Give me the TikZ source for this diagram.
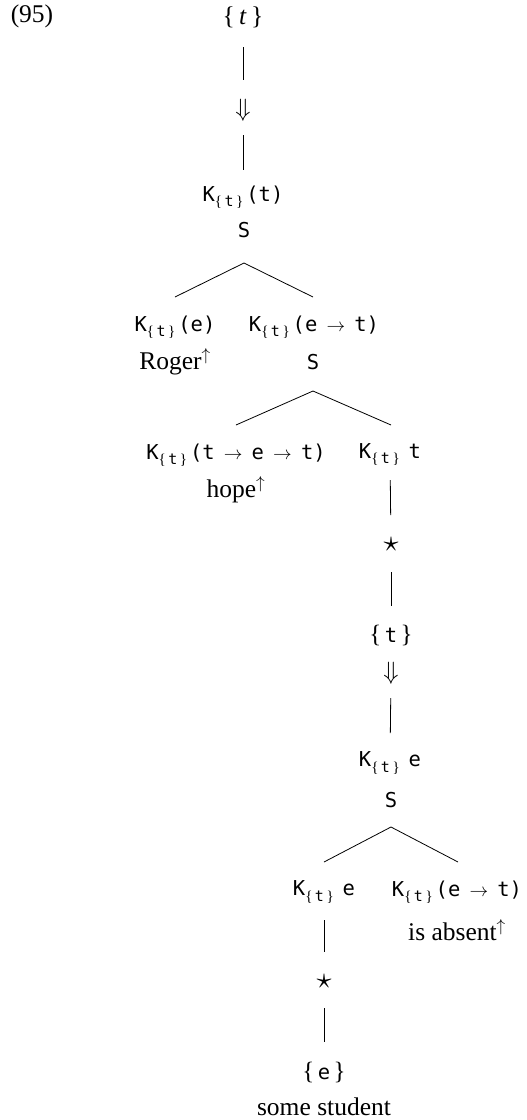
\documentclass[tikz,border=0pt]{standalone}
\usepackage{graphicx}
\usepackage{fontspec}
\setmainfont{Liberation Serif}
\newfontfamily\tyf{DejaVu Sans Mono}
\newcommand\Kt{K\raisebox{-0.45ex}{\fontsize{15}{15}\selectfont{\rmfamily\{}\,t\,{\rmfamily\}}}\hspace{3pt}}
\newcommand\Br[1]{{\fontsize{25}{25}\selectfont\rmfamily\{}\,#1\,{\fontsize{25}{25}\selectfont\rmfamily\}}}
\newcommand\Ar{\makebox[12.3pt]{\scalebox{0.9}{$\to$}}}
\newcommand\Dn{\scalebox{2.5}{$\Downarrow$}}
\newcommand\St{\scalebox{3}{$\star$}}
\tikzset{
  ser/.style={font=\fontsize{25.5}{29}\selectfont, inner sep=1pt},
  mono/.style={font=\fontsize{20.5}{24}\selectfont\tyf, inner sep=1pt},
  sym/.style={font=\normalsize, inner sep=1pt},
  edge/.style={line width=0.8pt},
}
\begin{document}
\begin{tikzpicture}[x=1pt,y=-1pt]
\useasboundingbox (0,0) rectangle (527,1120);
% nodes
\node[ser] (n95) at (32,16) {(95)};
\node[ser] (top) at (243,17) {\{\,\textit{t}\,\}};
\node[sym] (d1) at (243,110) {\Dn};
\node[mono] (K1) at (243,197) {\Kt(t)};
\node[mono] (S1) at (244,230) {S};
\node[mono] (Kl) at (175,327) {\Kt(e)};
\node[ser] (rog) at (175,362) {Roger$^{\uparrow}$};
\node[mono] (Kr) at (314,327) {\Kt(e \Ar{} t)};
\node[mono] (S2) at (313,362) {S};
\node[mono] (Kh) at (236,455) {\Kt(t \Ar{} e \Ar{} t)};
\node[ser] (hope) at (236,490) {hope$^{\uparrow}$};
\node[mono] (Ktt) at (390,455) {\Kt\hspace{6pt}t};
\node[sym] (st1) at (391,545) {\St};
\node[mono] (tt) at (391,635) {\Br{t}};
\node[sym] (d2) at (391,673) {\Dn};
\node[mono] (Ke) at (390,763) {\Kt\hspace{6pt}e};
\node[mono] (S3) at (391,800) {S};
\node[mono] (Ke2) at (324,892) {\Kt\hspace{6pt}e};
\node[mono] (Kab) at (457,892) {\Kt(e\ \Ar{} t)};
\node[ser] (abs) at (457,930) {is absent$^{\uparrow}$};
\node[sym] (st2) at (324,982) {\St};
\node[mono] (ee) at (324,1072) {\Br{e}};
\node[ser] (some) at (324,1107) {some student};
% vertical connectors
\draw[edge, shorten <=30pt, shorten >=30pt] (top.center) -- (d1.center);
\draw[edge, shorten <=25pt, shorten >=27pt] (d1.center) -- (K1.center);
\draw[edge, shorten <=25pt, shorten >=30pt] (Ktt.center) -- (st1.center);
\draw[edge, shorten <=27pt, shorten >=29pt] (st1.center) -- (tt.center);
\draw[edge, shorten <=25pt, shorten >=30pt] (d2.center) -- (Ke.center);
\draw[edge, shorten <=28pt, shorten >=30pt] (Ke2.center) -- (st2.center);
\draw[edge, shorten <=26pt, shorten >=30pt] (st2.center) -- (ee.center);
% branches
\coordinate (a1) at ([yshift=-33pt]S1.center);
\coordinate (a2) at ([yshift=-29pt]S2.center);
\coordinate (a3) at ([yshift=-27pt]S3.center);
\draw[edge] ([yshift=30pt]Kl.center) -- (a1) -- ([yshift=30pt,xshift=-1pt]Kr.center);
\draw[edge] ([yshift=30pt]Kh.center) -- (a2) -- ([yshift=30pt,xshift=1pt]Ktt.center);
\draw[edge] ([yshift=30pt]Ke2.center) -- (a3) -- ([yshift=30pt,xshift=1pt]Kab.center);
\end{tikzpicture}
\end{document}
